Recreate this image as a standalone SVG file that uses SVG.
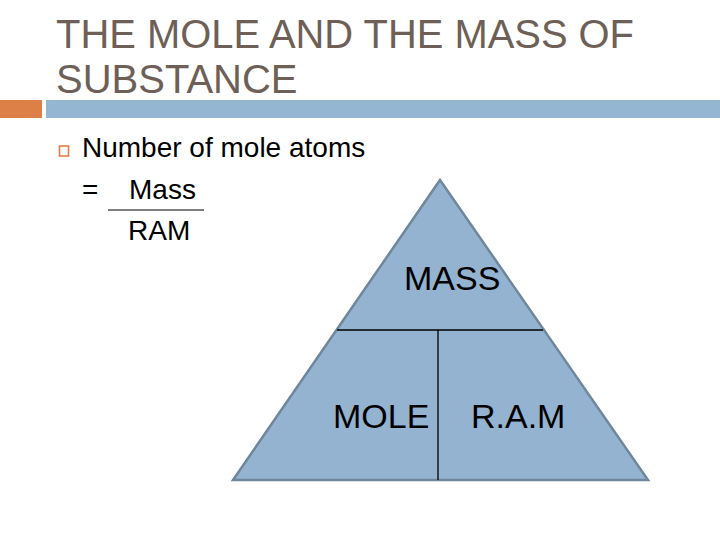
<svg xmlns="http://www.w3.org/2000/svg" width="720" height="540" viewBox="0 0 720 540">
<style>
.title{font-family:"Liberation Sans",Arial,sans-serif;font-size:40px;fill:#6e5f57}
.body{font-family:"Liberation Sans",Arial,sans-serif;font-size:28px;fill:#000}
.lbl{font-family:"Liberation Sans",Arial,sans-serif;font-size:34px;fill:#000}
.ln{stroke:#000;stroke-width:1.3;fill:none}
</style>
<rect width="720" height="540" fill="#fff"/>
<g id="title">
<text class="title" x="56" y="48" textLength="578" lengthAdjust="spacingAndGlyphs">THE MOLE AND THE MASS OF</text>
<text class="title" x="56" y="93">SUBSTANCE</text>
</g>
<g id="bars">
<rect x="0" y="100" width="42" height="18" fill="#dd8047"/>
<rect x="46" y="100" width="674" height="18" fill="#94b6d2"/>
</g>
<g id="bullet">
<rect x="59.5" y="146" width="9" height="10" fill="none" stroke="#dd8047" stroke-width="1.6"/>
<text class="body" x="82" y="157">Number of mole atoms</text>
<text class="body" x="82" y="199">=</text>
<text class="body" x="129" y="199">Mass</text>
<line x1="108" y1="210" x2="204" y2="210" stroke="#000" stroke-width="1"/>
<text class="body" x="128" y="240">RAM</text>
</g>
<g id="triangle">
<polygon points="440,180 648,480 233,480" fill="#94b3d0" stroke="#6f879c" stroke-width="2.5" stroke-linejoin="miter"/>
</g>
<g id="connectors">
<line class="ln" x1="337" y1="330" x2="543" y2="330"/>
<line class="ln" x1="438" y1="330" x2="438" y2="480"/>
</g>
<g id="mass"><text class="lbl" x="404" y="290">MASS</text></g>
<g id="mole"><text class="lbl" x="333" y="428">MOLE</text></g>
<g id="ram"><text class="lbl" x="471" y="428">R.A.M</text></g>
</svg>
